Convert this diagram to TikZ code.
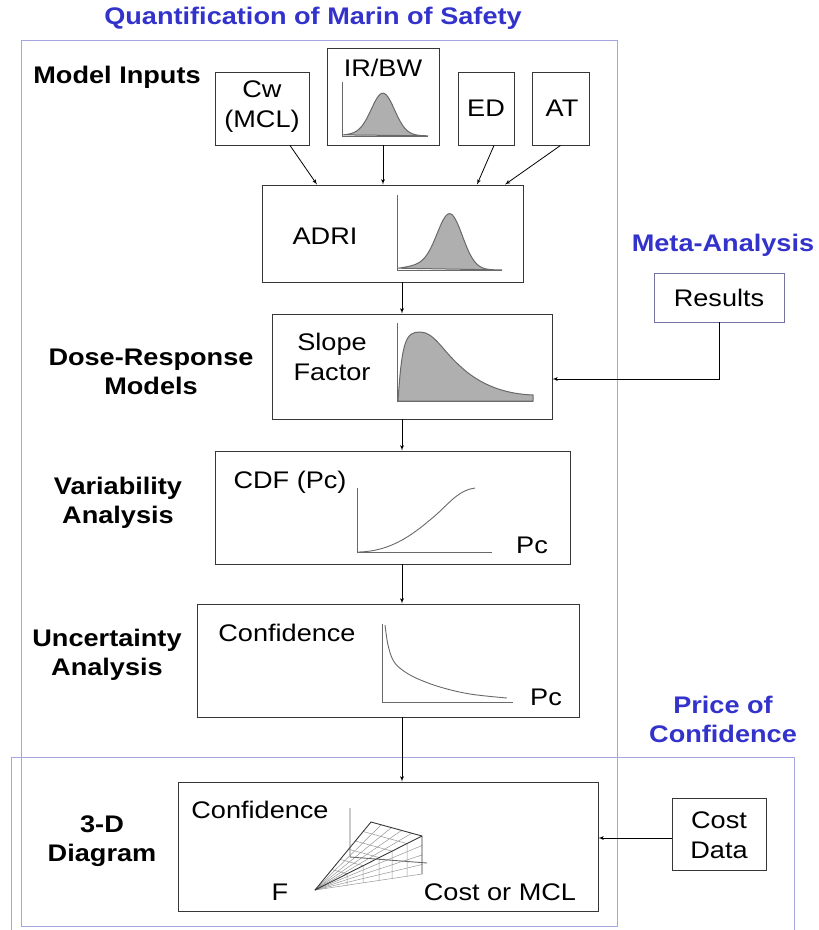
\documentclass[tikz,border=0pt]{standalone}
\usepackage{fontspec}
\setmainfont{Liberation Sans}[FakeStretch=1.13]
\usetikzlibrary{arrows,calc}

\definecolor{titleblue}{RGB}{51,51,204}
\definecolor{framecol}{RGB}{165,165,225}
\definecolor{boxcol}{RGB}{55,55,55}
\definecolor{curvegray}{RGB}{105,105,105}
\definecolor{fillgray}{RGB}{175,175,175}

\begin{document}
\begin{tikzpicture}
        [
        x=1pt,y=-1pt,
        box/.style={draw=boxcol,line width=0.9pt,inner sep=0pt},
        txt/.style={font=\fontsize{24}{30}\selectfont,align=center,inner sep=0pt},
        head/.style={font=\fontsize{24}{29}\selectfont\bfseries,align=center,inner sep=0pt},
        sect/.style={head,text=titleblue},
        frame/.style={draw=framecol,line width=1pt},
        edge/.style={->,> = latex',line width=0.8pt},
        axis/.style={draw=curvegray,line width=0.9pt},
        hump/.style={fill=fillgray,draw=curvegray,line width=1pt}
        ]
    \useasboundingbox (0,0) rectangle (819,930);
    % frames
    \draw[frame] (21,40) rectangle (617,926);
    \draw[frame] (11,930) -- (11,757) -- (794,757) -- (794,930);
    \node[sect] (title) at (313,18) {Quantification of Marin of Safety};
    \node[sect] (meta) at (723,245) {Meta-Analysis};
    \node[sect] (price) at (723,719) {Price of\\Confidence};
    % stage labels
    \node[head] (inputs) at (117,77) {Model Inputs};
    \node[head] (dose) at (151,371.5) {Dose-Response\\Models};
    \node[head] (vari) at (118,502.5) {Variability\\Analysis};
    \node[head] (unc) at (107,654.5) {Uncertainty\\Analysis};
    \node[head] (diag) at (102,841) {3-D\\Diagram};
    % boxes
    \node[box,minimum width=94,minimum height=73] (cw) at (262,108.5) {};
    \node[box,minimum width=112,minimum height=97] (irbw) at (383,96.5) {};
    \node[box,minimum width=56,minimum height=73] (ed) at (486,108.5) {};
    \node[box,minimum width=57,minimum height=73] (at) at (560.5,108.5) {};
    \node[box,minimum width=261,minimum height=97] (adri) at (392.5,233.5) {};
    \node[box,minimum width=280,minimum height=105] (slope) at (412,366.5) {};
    \node[box,minimum width=355,minimum height=113] (cdf) at (392.5,507.5) {};
    \node[box,minimum width=382,minimum height=113] (conf) at (388,660.5) {};
    \node[box,minimum width=420,minimum height=129] (d3) at (388,846.5) {};
    \node[box,draw=framecol!70!black,minimum width=130,minimum height=49] (results) at (719,297.5) {};
    \node[box,minimum width=94,minimum height=72] (cost) at (719,834) {};
    % box texts
    \node[txt] (cwtxt) at (262,107) {Cw\\(MCL)};
    \node[txt] (irbwtxt) at (383,68) {IR/BW};
    \node[txt] (edtxt) at (486,108) {ED};
    \node[txt] (attxt) at (562,108) {AT};
    \node[txt] (adritxt) at (325,236) {ADRI};
    \node[txt] (slopetxt) at (332,356.5) {Slope\\Factor};
    \node[txt] (cdftxt) at (290,482) {CDF (Pc)};
    \node[txt] (cdfpc) at (532,545) {Pc};
    \node[txt] (conftxt) at (287,633) {Confidence};
    \node[txt] (confpc) at (546,697) {Pc};
    \node[txt] (d3conf) at (260,810) {Confidence};
    \node[txt] (d3f) at (280,892) {F};
    \node[txt] (d3cost) at (500,892) {Cost or MCL};
    \node[txt] (restxt) at (719,297.5) {Results};
    \node[txt] (costtxt) at (719,835) {Cost\\Data};
    % IR/BW curve
    \draw[axis] (342,82) -- (342,136) -- (428,136);
    \draw[hump] plot[domain=343:428,samples=60]
        (\x,{136-40*exp(-((\x-383)/11.5)*((\x-383)/11.5)/2)-3*exp(-((\x-375)/22)*((\x-375)/22)/2)}) -- cycle;
    % ADRI curve
    \draw[axis] (397,195) -- (397,270) -- (502,270);
    \draw[hump] plot[domain=398:502,samples=70]
        (\x,{270-52*exp(-((\x-450)/12.5)*((\x-450)/12.5)/2)-6*exp(-((\x-432)/22)*((\x-432)/22)/2)}) -- cycle;
    % slope factor curve
    \draw[axis] (397,323) -- (397,401) -- (533,401);
    \draw[fill=fillgray,draw=curvegray,line width=1pt] (398,401)
        .. controls (402,340) and (406,332) .. (420,332)
        .. controls (434,332) and (442,350) .. (460,366)
        .. controls (480,385) and (505,394) .. (533,395) -- (533,401) -- cycle;
    % CDF curve
    \draw[axis] (357,488) -- (357,552) -- (492,552);
    \draw[axis] (357,552) .. controls (392,552) and (415,533) .. (437,514)
        .. controls (452,500) and (460,490) .. (475,488);
    % confidence curve
    \draw[axis] (382,624) -- (382,702) -- (513,702);
    \draw[axis] plot[smooth,tension=0.6] coordinates
        {(385,625) (388,645) (393,660) (401,669) (416,678) (440,687) (470,694) (507,698)};
    % 3-D surface
    \coordinate (apex) at (315,890);
    \coordinate (ptop) at (371,822);
    \coordinate (prt) at (422,836);
    \coordinate (prb) at (422,874);
    \foreach \t in {0.2,0.4,0.6,0.8}
        \draw[curvegray!70,line width=0.5pt] (apex) -- ($(ptop)!\t!(prt)$);
    \foreach \t in {0.25,0.5,0.75}
        \draw[curvegray!70,line width=0.5pt] (apex) -- ($(prt)!\t!(prb)$);
    \foreach \t in {0.3,0.45,0.6,0.72,0.86}
        \draw[curvegray!70,line width=0.5pt] ($(apex)!\t!(ptop)$) -- ($(apex)!\t!(prt)$) -- ($(apex)!\t!(prb)$);
    \draw[curvegray!70,line width=0.5pt] (apex) -- (prb);
    \draw[boxcol,line width=0.9pt] (apex) -- (ptop) -- (prt) -- (prb);
    \draw[boxcol,line width=0.9pt] (apex) -- (prt);
    \draw[axis] (350,808) -- (350,857) -- (427,863);
    % connectors
    \coordinate (spine) at (402,0);
    \draw[edge] ([xshift=28]cw.south) -- ([xshift=-75.5]adri.north);
    \draw[edge] (irbw.south) -- (irbw.south |- adri.north);
    \draw[edge] ([xshift=8]ed.south) -- ([xshift=84.5]adri.north);
    \draw[edge] ([xshift=0]at.south) -- ([xshift=112.5]adri.north);
    \draw[edge] (adri.south -| spine) -- (slope.north -| spine);
    \draw[edge] (slope.south -| spine) -- (cdf.north -| spine);
    \draw[edge] (cdf.south -| spine) -- (conf.north -| spine);
    \draw[edge] (conf.south -| spine) -- (d3.north -| spine);
    \draw[edge] (results.south) |- ([yshift=-12.5]slope.east);
    \draw[edge] ([yshift=-4]cost.west) -- ([yshift=-4]cost.west -| d3.east);
\end{tikzpicture}
\end{document}
